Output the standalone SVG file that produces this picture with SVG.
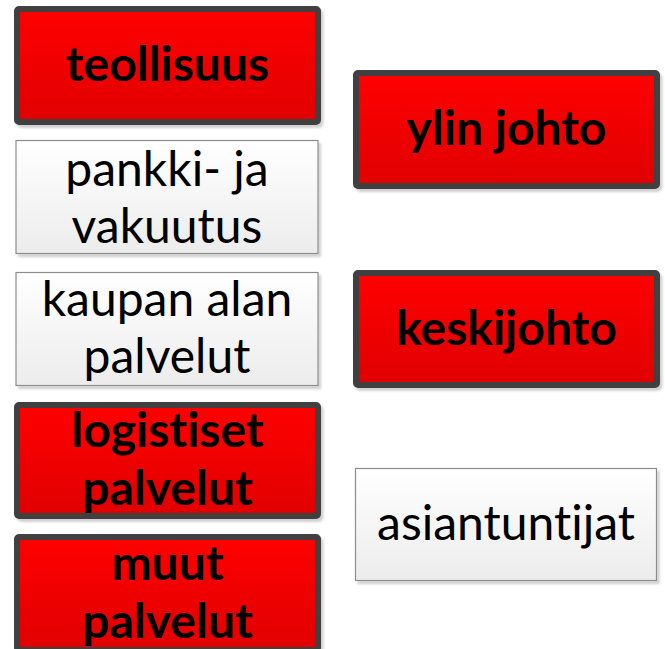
<svg xmlns="http://www.w3.org/2000/svg" width="665" height="649" viewBox="0 0 665 649">
  <defs>
    <linearGradient id="redGrad" x1="0" y1="0" x2="0" y2="1">
      <stop offset="0" stop-color="#ff0000"/>
      <stop offset="1" stop-color="#e00000"/>
    </linearGradient>
    <linearGradient id="whiteGrad" x1="0" y1="0" x2="0" y2="1">
      <stop offset="0" stop-color="#ffffff"/>
      <stop offset="1" stop-color="#ececec"/>
    </linearGradient>
    <filter id="shadow" x="-10%" y="-10%" width="120%" height="130%">
      <feDropShadow dx="2.5" dy="3" stdDeviation="1.2" flood-color="#000000" flood-opacity="0.18"/>
    </filter>
  </defs>
  <style>
    .red { fill: url(#redGrad); stroke: #404040; stroke-width: 6; filter: url(#shadow); }
    .white { fill: url(#whiteGrad); stroke: #8c8c8c; stroke-width: 1.2; filter: url(#shadow); }
    text { font-variant-ligatures: none; font-feature-settings: "liga" 0, "dlig" 0; }
    .tb { font-family: Lato, "Liberation Sans", sans-serif; font-weight: bold; font-size: 48px; fill: #000000; text-anchor: middle; }
    .tn { font-family: Lato, "Liberation Sans", sans-serif; font-weight: normal; font-size: 48px; fill: #000000; text-anchor: middle; }
  </style>
  <rect width="665" height="649" fill="#ffffff"/>

  <g id="teollisuus">
    <rect class="red" x="17" y="9" width="301" height="113" rx="2"/>
    <text class="tb" x="167.5" y="81">teollisuus</text>
  </g>
  <g id="pankki">
    <rect class="white" x="16" y="140.5" width="302" height="113"/>
    <text class="tn" x="167" y="186">pankki- ja</text>
    <text class="tn" x="167" y="243">vakuutus</text>
  </g>
  <g id="kaupan">
    <rect class="white" x="16" y="272.5" width="302" height="113"/>
    <text class="tn" x="167" y="316">kaupan alan</text>
    <text class="tn" x="167" y="373">palvelut</text>
  </g>
  <g id="logistiset">
    <rect class="red" x="17" y="405" width="301" height="111" rx="2"/>
    <text class="tb" x="167.5" y="447">logistiset</text>
    <text class="tb" x="167.5" y="505">palvelut</text>
  </g>
  <g id="muut">
    <rect class="red" x="17" y="537" width="301" height="113" rx="2"/>
    <text class="tb" x="167.5" y="580">muut</text>
    <text class="tb" x="167.5" y="638">palvelut</text>
  </g>
  <g id="ylin-johto">
    <rect class="red" x="356" y="73" width="301" height="113" rx="2"/>
    <text class="tb" x="506.5" y="145">ylin johto</text>
  </g>
  <g id="keskijohto">
    <rect class="red" x="356" y="273" width="301" height="112" rx="2"/>
    <text class="tb" x="506.5" y="345">keskijohto</text>
  </g>
  <g id="asiantuntijat">
    <rect class="white" x="355.5" y="468.5" width="301" height="112"/>
    <text class="tn" x="506" y="540">asiantuntijat</text>
  </g>
</svg>
